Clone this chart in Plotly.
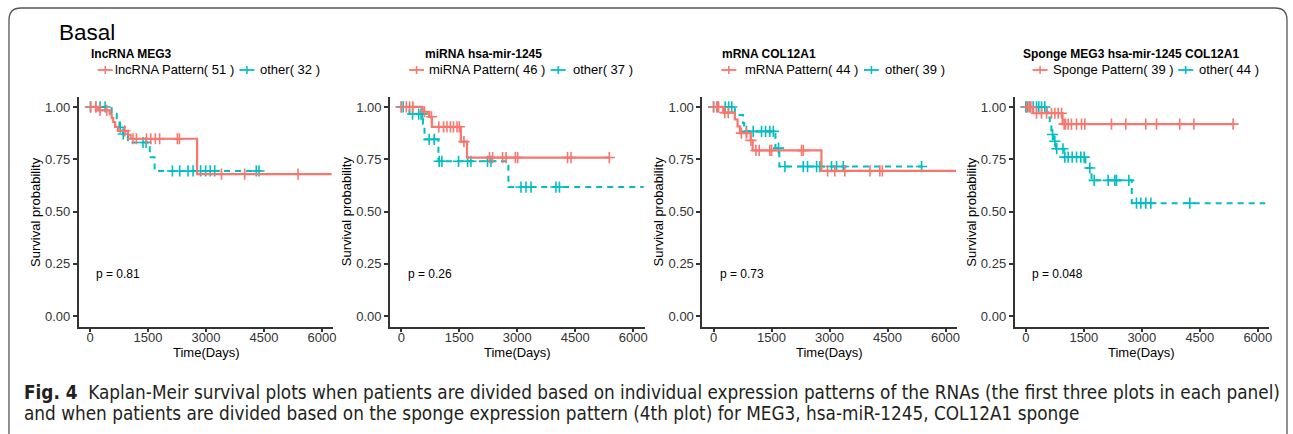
import numpy as np
import plotly.graph_objects as go

W, H = 1293, 434
RED = "#F8766D"
CYAN = "#00BFC4"
FONT = "Liberation Sans, Arial, sans-serif"
CAP_FONT = "Liberation Sans Narrow, Arial Narrow, DejaVu Sans Condensed, sans-serif"

fig_title = "Basal"
panel_titles = ["lncRNA MEG3", "miRNA hsa-mir-1245", "mRNA COL12A1",
                "Sponge MEG3 hsa-mir-1245 COL12A1"]
red_labels = ["lncRNA Pattern( 51 )", "miRNA Pattern( 46 )", "mRNA Pattern( 44 )",
              "Sponge Pattern( 39 )"]
cyan_labels = ["other( 32 )", "other( 37 )", "other( 39 )", "other( 44 )"]
p_values = ["p = 0.81", "p = 0.26", "p = 0.73", "p = 0.048"]
x_ticks = [0, 1500, 3000, 4500, 6000]
y_ticks = [0.0, 0.25, 0.50, 0.75, 1.00]
y_ticklabels = ["0.00", "0.25", "0.50", "0.75", "1.00"]
x_title = "Time(Days)"
y_title = "Survival probability"
caption_1 = ("<b>Fig. 4</b>  Kaplan-Meir survival plots when patients are divided based on "
             "individual expression patterns of the RNAs (the first three plots in each panel)")
caption_2 = ("and when patients are divided based on the sponge expression pattern (4th plot) "
             "for MEG3, hsa-miR-1245, COL12A1 sponge")

# ---- Panel 1: lncRNA MEG3 ----
p1_red_t = [0, 210, 510, 560, 600, 650, 720, 980, 1050, 2770, 6250]
p1_red_s = [1.0, 0.984, 0.966, 0.947, 0.928, 0.905, 0.886, 0.867, 0.848, 0.679, 0.679]
p1_red_cens = [20, 150, 260, 430, 900, 1110, 1200, 1460, 1570, 1690, 1800, 2260, 2310,
               3400, 4000, 5380]
p1_cyan_t = [0, 560, 690, 760, 850, 980, 1545, 1670, 4370]
p1_cyan_s = [1.0, 0.967, 0.935, 0.903, 0.871, 0.83, 0.76, 0.694, 0.694]
p1_cyan_cens = [10, 150, 260, 390, 780, 860, 1370, 1450, 2130, 2320, 2535, 2665, 2860,
                2990, 3110, 3225, 4300, 4370]

# ---- Panel 2: miRNA hsa-mir-1245 ----
p2_red_t = [0, 550, 720, 790, 1540, 1700, 5400]
p2_red_s = [1.0, 0.977, 0.953, 0.905, 0.834, 0.758, 0.758]
p2_red_cens = [0, 130, 215, 300, 600, 780, 970, 1095, 1180, 1270, 1350, 1440, 1500, 1620,
               2280, 2360, 2620, 2710, 2950, 3010, 4300, 4390, 5380]
p2_cyan_t = [0, 210, 560, 600, 960, 2770, 6270]
p2_cyan_s = [1.0, 0.966, 0.92, 0.845, 0.74, 0.617, 0.617]
p2_cyan_cens = [0, 50, 290, 450, 510, 550, 720, 850, 980, 1050, 1480, 1715, 1800, 2230,
                2320, 3095, 3225, 3355, 4000, 4090]

# ---- Panel 3: mRNA COL12A1 ----
p3_red_t = [0, 250, 550, 620, 680, 960, 1010, 2790, 6270]
p3_red_s = [1.0, 0.973, 0.94, 0.907, 0.875, 0.84, 0.792, 0.694, 0.694]
p3_red_cens = [0, 90, 130, 290, 380, 720, 850, 965, 1095, 1180, 1455, 1500, 2275, 2320,
               2950, 3135, 3395, 4045, 4300, 4365]
p3_cyan_t = [0, 550, 760, 790, 1600, 1700, 5400]
p3_cyan_s = [1.0, 0.962, 0.923, 0.883, 0.803, 0.715, 0.715]
p3_cyan_cens = [0, 90, 300, 390, 470, 850, 1025, 1240, 1345, 1455, 1545, 1680, 1845, 2320,
                2430, 2665, 2750, 3050, 3180, 3355, 5380]

# ---- Panel 4: Sponge ----
p4_red_t = [0, 190, 950, 5400]
p4_red_s = [1.0, 0.97, 0.918, 0.918]
p4_red_cens = [20, 80, 130, 276, 406, 536, 665, 750, 836, 923, 990, 1025, 1095, 1180, 1310,
               1440, 1525, 2215, 2585, 3100, 3380, 3980, 4345, 5360]
p4_cyan_t = [0, 540, 580, 620, 660, 720, 780, 990, 1540, 1700, 2740, 6190]
p4_cyan_s = [1.0, 0.975, 0.95, 0.923, 0.868, 0.836, 0.80, 0.76, 0.708, 0.649, 0.54, 0.54]
p4_cyan_cens = [0, 35, 105, 190, 275, 335, 405, 490, 690, 750, 800, 960, 1008, 1095, 1198,
                1311, 1422, 1508, 1655, 1767, 2129, 2302, 2345, 2664, 2862, 2974, 3103,
                3233, 4241]

panels = [
    (p1_red_t, p1_red_s, p1_red_cens, p1_cyan_t, p1_cyan_s, p1_cyan_cens),
    (p2_red_t, p2_red_s, p2_red_cens, p2_cyan_t, p2_cyan_s, p2_cyan_cens),
    (p3_red_t, p3_red_s, p3_red_cens, p3_cyan_t, p3_cyan_s, p3_cyan_cens),
    (p4_red_t, p4_red_s, p4_red_cens, p4_cyan_t, p4_cyan_s, p4_cyan_cens),
]

# ---- layout geometry (pixels) ----
axis_left = [79, 391, 704, 1017]
axis_w = 255
y_top_px, y_bot_px = 96.5, 326.5
title_x = [89, 424, 722, 1023]
red_sym_x = [98, 410, 723, 1035]
red_txt_x = [113, 428, 745, 1053]
cyan_sym_x = [240, 552, 866, 1181]
cyan_txt_x = [259, 572, 885, 1200]


def px(x):
    return x / W


def py(y):
    return (H - y) / H


def level_at(times, surv, c):
    idx = np.searchsorted(np.asarray(times), np.asarray(c), side="right") - 1
    return np.asarray(surv)[np.clip(idx, 0, len(surv) - 1)]


fig = go.Figure()
shapes = []
annotations = []

for i, (rt, rs, rc, ct, cs, cc) in enumerate(panels):
    n = i + 1
    xa = "x" if n == 1 else f"x{n}"
    ya = "y" if n == 1 else f"y{n}"
    # cyan (other) dashed
    fig.add_trace(go.Scatter(x=ct, y=cs, mode="lines", line_shape="hv",
                             line=dict(color=CYAN, width=2, dash="6px,5px"),
                             xaxis=xa, yaxis=ya, showlegend=False, hoverinfo="skip"))
    fig.add_trace(go.Scatter(x=cc, y=level_at(ct, cs, cc), mode="markers",
                             marker=dict(symbol="cross-thin", size=8, color=CYAN,
                                         line=dict(width=1.6, color=CYAN)),
                             xaxis=xa, yaxis=ya, showlegend=False))
    # red (pattern) solid
    fig.add_trace(go.Scatter(x=rt, y=rs, mode="lines", line_shape="hv",
                             line=dict(color=RED, width=2.2),
                             xaxis=xa, yaxis=ya, showlegend=False, hoverinfo="skip"))
    fig.add_trace(go.Scatter(x=rc, y=level_at(rt, rs, rc), mode="markers",
                             marker=dict(symbol="cross-thin", size=8, color=RED,
                                         line=dict(width=1.6, color=RED)),
                             xaxis=xa, yaxis=ya, showlegend=False))

    l = axis_left[i]
    xkey = "xaxis" if n == 1 else f"xaxis{n}"
    ykey = "yaxis" if n == 1 else f"yaxis{n}"
    common = dict(showgrid=False, zeroline=False, showline=True, linecolor="#333333",
                  linewidth=1.8, ticks="outside", ticklen=4, tickwidth=1.5,
                  tickcolor="#333333", tickfont=dict(family=FONT, size=13, color="#333333"))
    fig.update_layout(**{
        xkey: dict(domain=[px(l), px(l + axis_w)], anchor=ya, range=[-290, 6290],
                   tickvals=x_ticks, ticklabelstandoff=-6, **common),
        ykey: dict(domain=[py(y_bot_px), py(y_top_px)], anchor=xa, range=[-0.05, 1.05],
                   tickvals=y_ticks, ticktext=y_ticklabels, **common),
    })

    # panel title
    annotations.append(dict(text=f"<b>{panel_titles[i]}</b>", x=px(title_x[i]), y=py(54),
                            xref="paper", yref="paper", xanchor="left", yanchor="middle",
                            showarrow=False, font=dict(family=FONT, size=12, color="black")))
    # legend labels
    for sx, tx, lab, col in [(red_sym_x[i], red_txt_x[i], red_labels[i], RED),
                             (cyan_sym_x[i], cyan_txt_x[i], cyan_labels[i], CYAN)]:
        annotations.append(dict(text=lab, x=px(tx), y=py(70), xref="paper", yref="paper",
                                xanchor="left", yanchor="middle", showarrow=False,
                                font=dict(family=FONT, size=13, color="black")))
        shapes.append(dict(type="line", xref="paper", yref="paper", x0=px(sx), x1=px(sx + 15),
                           y0=py(70), y1=py(70), line=dict(color=col, width=1.8)))
        shapes.append(dict(type="line", xref="paper", yref="paper", x0=px(sx + 7.5),
                           x1=px(sx + 7.5), y0=py(66), y1=py(74),
                           line=dict(color=col, width=1.5)))
    # p value
    annotations.append(dict(text=p_values[i], x=110, y=0.2, xref=xa, yref=ya,
                            xanchor="left", yanchor="middle", showarrow=False,
                            font=dict(family=FONT, size=12, color="black")))
    # axis titles
    annotations.append(dict(text=y_title, x=px(l - 43.5), y=py((y_top_px + y_bot_px) / 2),
                            xref="paper", yref="paper", xanchor="center", yanchor="middle",
                            textangle=-90, showarrow=False,
                            font=dict(family=FONT, size=13, color="black")))
    annotations.append(dict(text=x_title, x=px(l + axis_w / 2), y=py(352),
                            xref="paper", yref="paper", xanchor="center", yanchor="middle",
                            showarrow=False, font=dict(family=FONT, size=13, color="black")))

# figure title
annotations.append(dict(text=fig_title, x=px(57), y=py(33), xref="paper", yref="paper",
                        xanchor="left", yanchor="middle", showarrow=False,
                        font=dict(family=FONT, size=22.5, color="black")))
# caption
for txt, yy in [(caption_1, 392), (caption_2, 413.5)]:
    annotations.append(dict(text=txt, x=px(22), y=py(yy), xref="paper", yref="paper",
                            xanchor="left", yanchor="middle", showarrow=False,
                            font=dict(family=CAP_FONT, size=18.8, color="#231f20")))

# rounded frame (open at bottom, cropped)
r = 12
fx0, fx1, fy0 = 9, 1290, 8
path = (f"M {px(fx0)},{py(H + 20)} L {px(fx0)},{py(fy0 + r)} "
        f"Q {px(fx0)},{py(fy0)} {px(fx0 + r)},{py(fy0)} "
        f"L {px(fx1 - r)},{py(fy0)} Q {px(fx1)},{py(fy0)} {px(fx1)},{py(fy0 + r)} "
        f"L {px(fx1)},{py(H + 20)}")
shapes.append(dict(type="path", xref="paper", yref="paper", path=path,
                   line=dict(color="#555555", width=1.3)))

fig.update_layout(width=W, height=H, margin=dict(l=0, r=0, t=0, b=0),
                  paper_bgcolor="white", plot_bgcolor="white",
                  shapes=shapes, annotations=annotations, showlegend=False)

fig.write_html("out.html", config={"displayModeBar": False},
               post_script="document.body.style.margin='0';"
                           "document.body.style.overflow='hidden';")
